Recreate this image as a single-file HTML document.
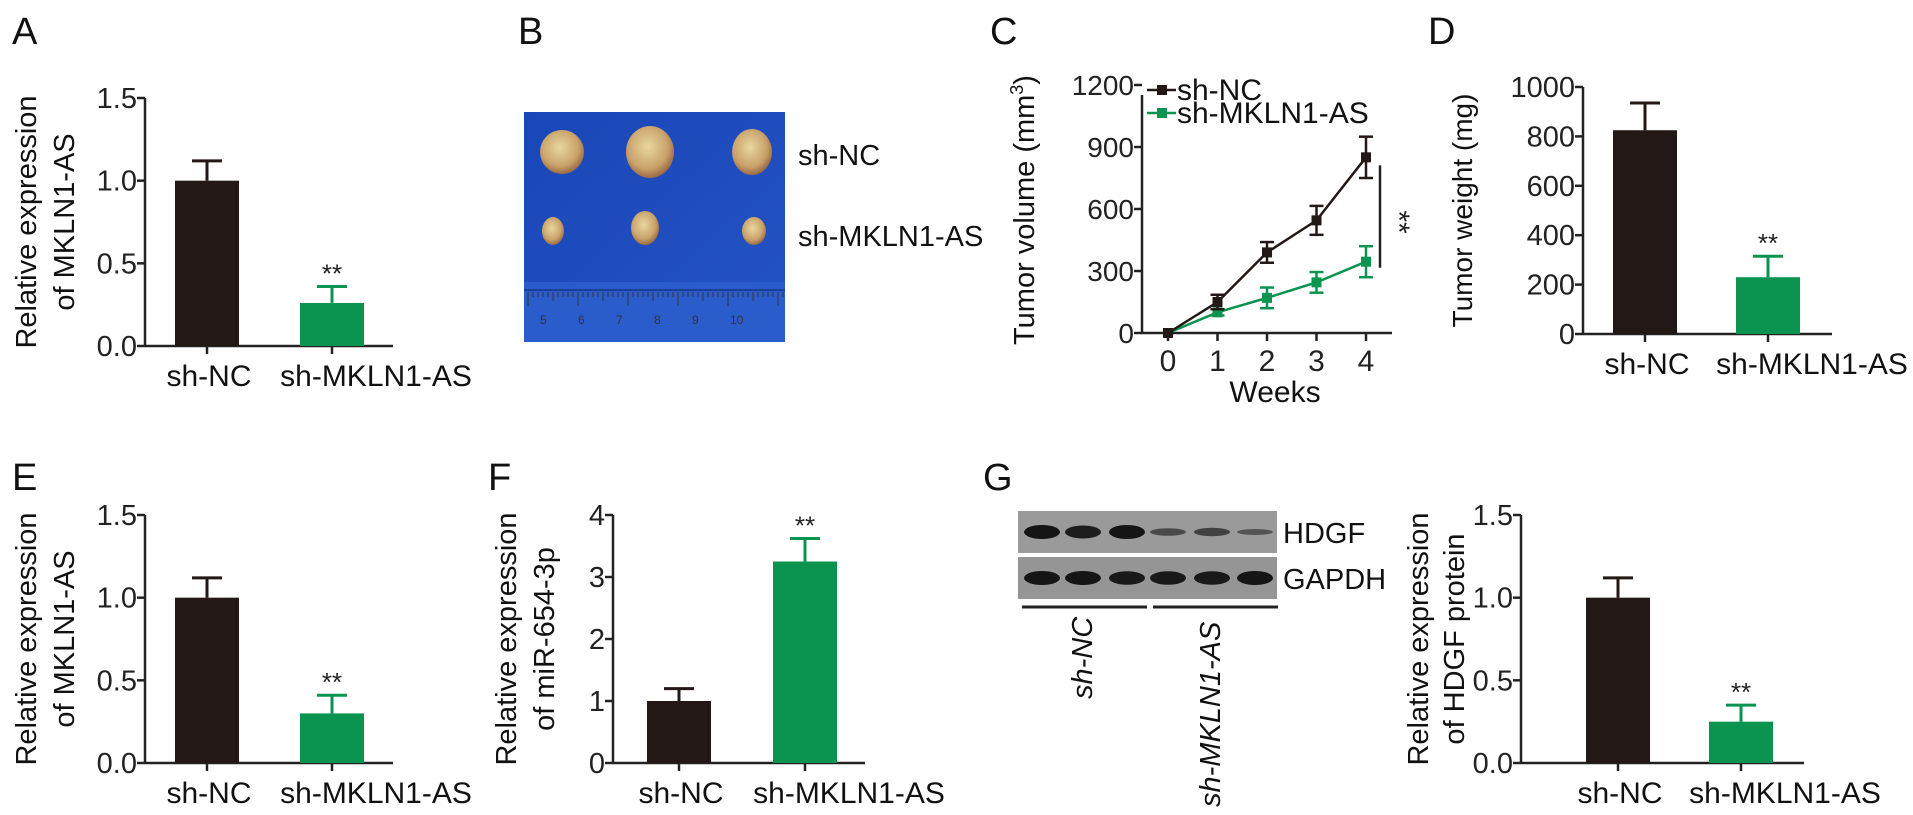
<!DOCTYPE html>
<html><head><meta charset="utf-8"><style>
html,body{margin:0;padding:0;background:#fff;}
svg{display:block;font-family:"Liberation Sans",Arial,sans-serif;}
</style></head><body>
<svg id="fig" width="1913" height="815" viewBox="0 0 1913 815" xmlns="http://www.w3.org/2000/svg">
<defs>
<linearGradient id="blue" x1="0" y1="0" x2="1" y2="1"><stop offset="0" stop-color="#1a47b8"/><stop offset="1" stop-color="#2453c4"/></linearGradient>
<radialGradient id="tum" cx="0.45" cy="0.4" r="0.6"><stop offset="0" stop-color="#e8d6a0"/><stop offset="0.7" stop-color="#c9a26a"/><stop offset="1" stop-color="#9c6a45"/></radialGradient>
</defs>
<g font-size="38" fill="#111">
<text x="12" y="44">A</text>
<text x="518" y="44">B</text>
<text x="990" y="44">C</text>
<text x="1428" y="44">D</text>
<text x="12" y="490">E</text>
<text x="488" y="490">F</text>
<text x="983" y="490">G</text>
</g>
<!-- Panel B photo -->
<g>
<rect x="524" y="112" width="261" height="230" fill="url(#blue)"/>
<rect x="524" y="282" width="261" height="60" fill="#2a5ccc"/>
<line x1="524" y1="290" x2="785" y2="290" stroke="#1a3d99" stroke-width="2"/>
<g id="ruler" stroke="#333" stroke-width="1"></g>
<ellipse cx="562" cy="152" rx="22" ry="22" fill="url(#tum)"/>
<ellipse cx="650" cy="152" rx="24" ry="26" fill="url(#tum)"/>
<ellipse cx="752" cy="152" rx="20" ry="23" fill="url(#tum)"/>
<ellipse cx="553" cy="231" rx="11" ry="14" fill="url(#tum)"/>
<ellipse cx="645" cy="228" rx="14" ry="17" fill="url(#tum)"/>
<ellipse cx="754" cy="231" rx="12" ry="14" fill="url(#tum)"/>
</g>
<text x="798" y="165" font-size="29" fill="#111">sh-NC</text>
<text x="798" y="246" font-size="29" fill="#111">sh-MKLN1-AS</text>
<!-- Panel G blot -->
<g>
<rect x="1018" y="511" width="259" height="42" fill="#9a9a9a"/>
<rect x="1018" y="557" width="259" height="42" fill="#959595"/>
<g id="bands"></g>
<line x1="1022" y1="607" x2="1147" y2="607" stroke="#222" stroke-width="3"/>
<line x1="1153" y1="607" x2="1278" y2="607" stroke="#222" stroke-width="3"/>
</g>
<text x="1283" y="543" font-size="29" fill="#111">HDGF</text>
<text x="1283" y="589" font-size="29" fill="#111">GAPDH</text>
<text transform="translate(1092,699) rotate(-90)" font-size="29" font-style="italic" fill="#111">sh-NC</text>
<text transform="translate(1220,807) rotate(-90)" font-size="29" font-style="italic" fill="#111">sh-MKLN1-AS</text>
<g id="charts"></g>
</svg>
<script>
// ---- data ----
const groups = ["sh-NC","sh-MKLN1-AS"];
const aValues = [1.0, 0.26];
const aErrors = [0.12, 0.10];
const aTicks = [0, 0.5, 1.0, 1.5];
const dValues = [825, 230];
const dErrors = [110, 85];
const dTicks = [0, 200, 400, 600, 800, 1000];
const eValues = [1.0, 0.30];
const eErrors = [0.12, 0.11];
const eTicks = [0, 0.5, 1.0, 1.5];
const fValues = [1.0, 3.25];
const fErrors = [0.2, 0.37];
const fTicks = [0, 1, 2, 3, 4];
const gValues = [1.0, 0.25];
const gErrors = [0.12, 0.10];
const gTicks = [0, 0.5, 1.0, 1.5];
const weeks = [0, 1, 2, 3, 4];
const ncVolume = [0, 150, 390, 545, 850];
const ncVolumeErr = [0, 35, 50, 70, 100];
const mkVolume = [0, 100, 170, 245, 345];
const mkVolumeErr = [0, 15, 50, 50, 75];
const cTicks = [0, 300, 600, 900, 1200];
const hdgfBands = [1.0, 0.9, 1.0, 0.35, 0.45, 0.2];
const gapdhBands = [1.0, 1.0, 0.95, 0.95, 0.95, 1.0];

const NS = "http://www.w3.org/2000/svg";
const root = document.getElementById("charts");
const DARK = "#231815", GREEN = "#0b9350";
function mk(tag, attrs, parent, text){
  const el = document.createElementNS(NS, tag);
  for (const k in attrs) el.setAttribute(k, attrs[k]);
  if (text !== undefined) el.textContent = text;
  (parent || root).appendChild(el);
  return el;
}
function fmt(v, dec){ return dec ? v.toFixed(1) : String(v); }

function barChart(o){
  const g = mk("g", {});
  
  
  const y = v => o.y0 - v / o.max * (o.y0 - o.yTop);
  const ax = mk("line", {x1:o.ax, y1:o.yTop, x2:o.ax, y2:o.y0, stroke:"#222","stroke-width":2.5}, g);
  
  
  const xa = mk("line", {x1:o.ax, y1:o.y0, x2:o.xEnd, y2:o.y0, stroke:"#222","stroke-width":2.5}, g);
  
  
  o.ticks.forEach(t => {
    mk("line", {x1:o.ax-8, y1:y(t), x2:o.ax, y2:y(t), stroke:"#222","stroke-width":2.5}, g);
    const tl = mk("text", {x:o.ax-8, y:y(t)+10, "text-anchor":"end","font-size":29, fill:"#222"}, g, fmt(t, o.dec));
    
    
  });
  o.values.forEach((v, i) => {
    const cx = o.centers[i];
    const col = i === 0 ? DARK : GREEN;
    const top = y(v + o.errors[i]);
    mk("line", {x1:cx, y1:y(v), x2:cx, y2:top, stroke:col,"stroke-width":3}, g);
    mk("line", {x1:cx-15, y1:top, x2:cx+15, y2:top, stroke:col,"stroke-width":3}, g);
    const b = mk("rect", {x:cx-o.bw/2, y:y(v), width:o.bw, height:o.y0-y(v), fill:col}, g);
    
    
    mk("line", {x1:cx, y1:o.y0, x2:cx, y2:o.y0+8, stroke:"#222","stroke-width":2.5}, g);
    const lx = cx + (i === 1 ? 44 : 2);
    const xl = mk("text", {x:lx, y:o.y0+40, "text-anchor":"middle","font-size":30, fill:"#111"}, g, groups[i]);
    
    
    if (i === 1) {
      const s = mk("text", {x:cx, y:top-4, "text-anchor":"middle","font-size":26, fill:"#222"}, g, "**");
      
      
    }
  });
  const midY = (o.yTop + o.y0) / 2;
  o.title.forEach((ln, k) => {
    const t = mk("text", {transform:`translate(${o.titleX[k]},${midY}) rotate(-90)`, "text-anchor":"middle","font-size":o.tfs || 29, fill:"#111"}, g, ln);
    
    
  });
}

barChart({name:"chart-a", ax:145, yTop:98, y0:346, max:1.5, xEnd:393, centers:[207,332], bw:64, values:aValues, errors:aErrors, ticks:aTicks, dec:true, title:["Relative expression","of MKLN1-AS"], titleX:[36,74]});
barChart({name:"chart-d", ax:1583, yTop:87, y0:334, max:1000, xEnd:1832, centers:[1645,1768], bw:64, values:dValues, errors:dErrors, ticks:dTicks, dec:false, title:["Tumor weight (mg)"], titleX:[1472], tfs:28});
barChart({name:"chart-e", ax:145, yTop:515, y0:763, max:1.5, xEnd:393, centers:[207,332], bw:64, values:eValues, errors:eErrors, ticks:eTicks, dec:true, title:["Relative expression","of MKLN1-AS"], titleX:[36,74]});
barChart({name:"chart-f", ax:613, yTop:515, y0:763, max:4, xEnd:865, centers:[679,805], bw:64, values:fValues, errors:fErrors, ticks:fTicks, dec:false, title:["Relative expression","of miR-654-3p"], titleX:[516,554]});
barChart({name:"chart-g", ax:1521, yTop:515, y0:763, max:1.5, xEnd:1804, centers:[1618,1741], bw:64, values:gValues, errors:gErrors, ticks:gTicks, dec:true, title:["Relative expression","of HDGF protein"], titleX:[1428,1464]});

// ---- Panel C line chart ----
(function(){
  const g = mk("g", {});
  
  
  const ax = 1142, y0 = 333, max = 1200, yTop = 85;
  const y = v => y0 - v / max * (y0 - yTop);
  const x = w => 1168 + w * 49.5;
  mk("line", {x1:ax, y1:yTop+10, x2:ax, y2:y0, stroke:"#222","stroke-width":2.5}, g);
  mk("line", {x1:ax, y1:y0, x2:1392, y2:y0, stroke:"#222","stroke-width":2.5}, g);
  cTicks.forEach(t => {
    mk("line", {x1:ax-8, y1:y(t), x2:ax, y2:y(t), stroke:"#222","stroke-width":2.5}, g);
    const tl = mk("text", {x:ax-8, y:y(t)+10, "text-anchor":"end","font-size":28, fill:"#222"}, g, String(t));
    
    
  });
  weeks.forEach(w => {
    mk("line", {x1:x(w), y1:y0, x2:x(w), y2:y0+8, stroke:"#222","stroke-width":2.5}, g);
    const tl = mk("text", {x:x(w), y:y0+38, "text-anchor":"middle","font-size":30, fill:"#222"}, g, String(w));
    
    
  });
  const wt = mk("text", {x:1275, y:402, "text-anchor":"middle","font-size":30, fill:"#111"}, g, "Weeks");
  
  
  const yt = mk("text", {transform:"translate(1034,210) rotate(-90)", "text-anchor":"middle","font-size":29, fill:"#111"}, g);
  
  
  yt.innerHTML = 'Tumor volume (mm<tspan dy="-11" font-size="18">3</tspan><tspan dy="11">)</tspan>';
  function series(vals, errs, col, nm){
    const pts = weeks.map((w,i) => x(w)+","+y(vals[i])).join(" ");
    const pl = mk("polyline", {points:pts, fill:"none", stroke:col, "stroke-width":2.5}, g);
    
    
    weeks.forEach((w,i) => {
      const cx = x(w);
      if (errs[i] > 0) {
        mk("line", {x1:cx, y1:y(vals[i]-errs[i]), x2:cx, y2:y(vals[i]+errs[i]), stroke:col,"stroke-width":2.5}, g);
        mk("line", {x1:cx-7, y1:y(vals[i]-errs[i]), x2:cx+7, y2:y(vals[i]-errs[i]), stroke:col,"stroke-width":2.5}, g);
        mk("line", {x1:cx-7, y1:y(vals[i]+errs[i]), x2:cx+7, y2:y(vals[i]+errs[i]), stroke:col,"stroke-width":2.5}, g);
      }
      const p = mk("rect", {x:cx-5, y:y(vals[i])-5, width:10, height:10, fill:col}, g);
      
      
    });
  }
  series(mkVolume, mkVolumeErr, GREEN, "sh-mkln1-as");
  series(ncVolume, ncVolumeErr, DARK, "sh-nc");
  [[DARK,"sh-NC",90],[GREEN,"sh-MKLN1-AS",113]].forEach(([c,t,yy]) => {
    const le = mk("g", {}, g);
    
    
    mk("line", {x1:1147, y1:yy, x2:1176, y2:yy, stroke:c,"stroke-width":2.5}, le);
    mk("rect", {x:1157, y:yy-5, width:10, height:10, fill:c}, le);
    mk("text", {x:1177, y:yy+10, "font-size":30, fill:"#111"}, le, t);
  });
  mk("line", {x1:1380, y1:y(ncVolume[4])+8, x2:1380, y2:y(mkVolume[4])+6, stroke:"#222","stroke-width":2.5}, g);
  const s = mk("text", {transform:"translate(1389,222) rotate(90)", "text-anchor":"middle","font-size":30, fill:"#222"}, g, "**");
  
  
})();

// ---- blot bands ----
(function(){
  const bg = document.getElementById("bands");
  const lanes = [1042,1083,1127,1168,1212,1255];
  hdgfBands.forEach((v,i) => {
    const b = mk("ellipse", {cx:lanes[i], cy:532, rx:18, ry:2+5*v, fill:"#151515", opacity:0.4+0.6*v}, bg);
    
    
  });
  gapdhBands.forEach((v,i) => {
    const b = mk("ellipse", {cx:lanes[i], cy:578, rx:18, ry:2+5*v, fill:"#151515", opacity:0.4+0.6*v}, bg);
    
    
  });
  const r = document.getElementById("ruler");
  for (let k = 0; k < 52; k++) {
    const xx = 528 + k * 5;
    mk("line", {x1:xx, y1:292, x2:xx, y2: k % 10 === 0 ? 306 : (k%5===0?301:297)}, r);
  }
  ["5","6","7","8","9","10"].forEach((t,k) => {
    mk("text", {x:540 + k*38, y:324, "font-size":12, fill:"#333", stroke:"none"}, r, t);
  });
})();
</script>
</body></html>
